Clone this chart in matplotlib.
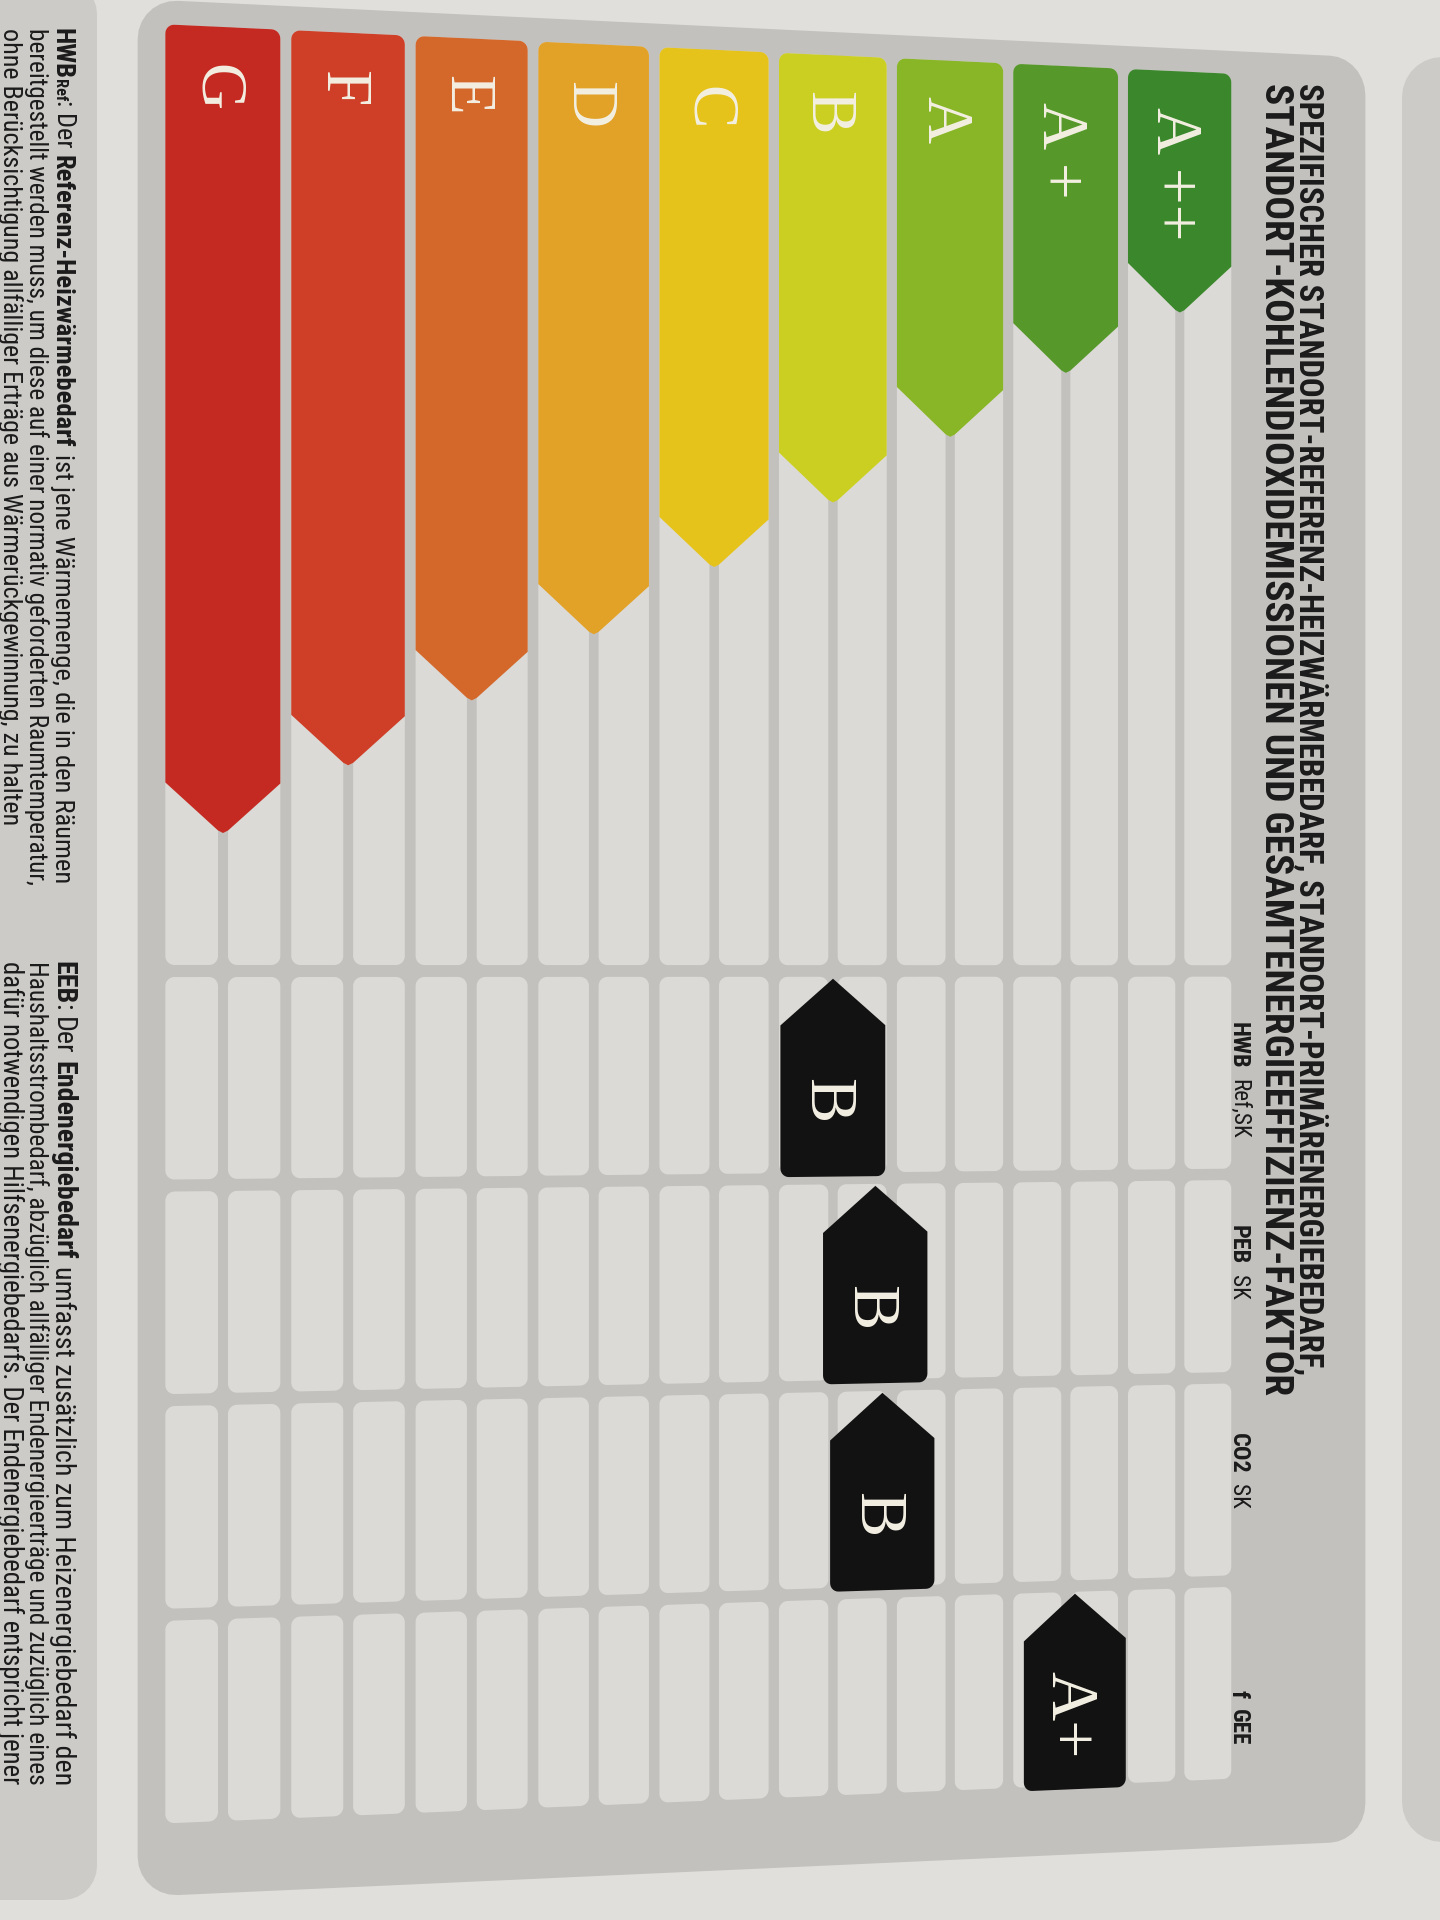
import numpy as np
import matplotlib
matplotlib.use("Agg")
import matplotlib.pyplot as plt
from matplotlib.patches import Polygon
from matplotlib import font_manager as fm
from matplotlib.font_manager import FontProperties

# ------------------------------------------------------------------ data
classes = ["A ++", "A +", "A", "B", "C", "D", "E", "F", "G"]
bar_length = [253, 320, 390, 461, 530, 601, 670, 737, 806]   # scale length of each class arrow
class_colors = ["#3a882b", "#56992a", "#89b627", "#cbcf22", "#e6c31b",
                "#e2a127", "#d4682b", "#cf3e26", "#c42a21"]
indicator_main = ["HWB", "PEB", "CO2", "f"]
indicator_sub = ["Ref,SK", "SK", "SK", "GEE"]
rating_label = ["B", "B", "B", "A+"]
rating_pos = [3.0, 2.64, 2.58, 0.92]      # position on class scale (A++ = 0 ... G = 8)
title_lines = ["SPEZIFISCHER STANDORT-REFERENZ-HEIZWÄRMEBEDARF, STANDORT-PRIMÄRENERGIEBEDARF,",
               "STANDORT-KOHLENDIOXIDEMISSIONEN UND GESAMTENERGIEEFFIZIENZ-FAKTOR"]
note_col1 = [
    [("HWB", "bold", 1.0), ("Ref", "bold", 0.62), (":", "normal", 1.0), (" Der", "normal", 1.0),
     (" Referenz-Heizwärmebedarf", "bold", 1.0), (" ist jene Wärmemenge, die in den Räumen", "normal", 1.0)],
    [("bereitgestellt werden muss, um diese auf einer normativ geforderten Raumtemperatur,", "normal", 1.0)],
    [("ohne Berücksichtigung allfälliger Erträge aus Wärmerückgewinnung, zu halten", "normal", 1.0)],
]
note_col2 = [
    [("EEB", "bold", 1.0), (":", "normal", 1.0), (" Der", "normal", 1.0), (" Endenergiebedarf", "bold", 1.0),
     (" umfasst zusätzlich zum Heizenergiebedarf den", "normal", 1.0)],
    [("Haushaltsstrombedarf, abzüglich allfälliger Endenergieerträge und zuzüglich eines", "normal", 1.0)],
    [("dafür notwendigen Hilfsenergiebedarfs. Der Endenergiebedarf entspricht jener", "normal", 1.0)],
]

# ------------------------------------------------------------------ layout / style
PAGE = "#e0dfdb"
PANEL = "#c3c1be"
CELL = "#dcdad6"
SIDE = "#cdcbc8"
TXT = "#1b1b1b"
LETTER = "#f3efe2"
MARK = "#121212"

X0, PITCH, COLW, SUBGAP = 223.0, 126.0, 115.0, 10.0
TOP, GRID_END = 27.0, 965.0
ROW_TOP0, ROW_PITCH, ROW_H = 977.0, 214.0, 202.0
NOTE_LEN = [[852, 854, 795], [821, 824, 821]]   # text run lengths of the footnote lines (px)


def _w(w):
    if isinstance(w, str):
        return fm.weight_dict.get(w, 400)
    return int(w)


def family_ok(name):
    ws = [_w(f.weight) for f in fm.fontManager.ttflist if f.name == name]
    return any(w <= 450 for w in ws) and any(w >= 600 for w in ws)


def pick(names, default):
    for n in names:
        try:
            if family_ok(n):
                return n
        except Exception:
            pass
    return default


SANS = pick(["Liberation Sans Narrow", "Roboto Condensed", "PT Sans Narrow", "Asap Condensed",
             "Barlow Semi Condensed", "Liberation Sans"], "DejaVu Sans")
SERIF = pick(["Liberation Serif", "DejaVu Serif"], "DejaVu Serif")


def warp(X, Y):
    """camera perspective of the photographed sheet"""
    X = np.asarray(X, float)
    Y = np.asarray(Y, float)
    xi = X - 0.8 * ((X - X0) / PITCH) ** 2
    s = 1 - 0.047 * (xi - X0) / 955.0
    yi = 970.0 + (Y - 970.0) * s
    return xi, yi


def arc(cx, cy, r, a0, a1, n=8):
    a = np.radians(np.linspace(a0, a1, n))
    return list(zip(cx + r * np.cos(a), cy + r * np.sin(a)))


def rrect(x0, y0, x1, y1, r):
    return (arc(x0 + r, y0 + r, r, 180, 270) + arc(x1 - r, y0 + r, r, 270, 360)
            + arc(x1 - r, y1 - r, r, 0, 90) + arc(x0 + r, y1 - r, r, 90, 180))


def densify(pts, step=10.0):
    out = []
    n = len(pts)
    for k in range(n):
        p = np.array(pts[k], float)
        q = np.array(pts[(k + 1) % n], float)
        d = np.hypot(*(q - p))
        m = max(1, int(d // step))
        for t in np.arange(m) / m:
            out.append(p + (q - p) * t)
    return np.array(out)


fig = plt.figure(figsize=(14.4, 19.2), dpi=100, facecolor=PAGE)
ax = fig.add_axes([0, 0, 1, 1])
ax.set_xlim(0, 1440)
ax.set_ylim(1920, 0)
ax.axis("off")
fig.canvas.draw()
renderer = fig.canvas.get_renderer()


def wpoly(pts, color, z, warped=True):
    P = densify(pts)
    if warped:
        xi, yi = warp(P[:, 0], P[:, 1])
        P = np.column_stack([xi, yi])
    ax.add_patch(Polygon(P, closed=True, facecolor=color, edgecolor="none", lw=0, zorder=z))


def tw(s, size, weight, family):
    fp = FontProperties(family=family, weight=weight, size=size)
    return renderer.get_text_width_height_descent(s, fp, ismath=False)[0]


def slen(s, size, weight, family):
    return tw("x" + s, size, weight, family) - tw("x", size, weight, family)


def runs_len(runs, size, family):
    y = 0.0
    for s, wt, sc in runs:
        sz = size * sc
        lead = len(s) - len(s.lstrip(" "))
        if lead:
            y += lead * (tw("x x", sz, wt, family) - tw("xx", sz, wt, family))
        y += slen(s.lstrip(" "), sz, wt, family)
    return y


def draw_runs(xb, y0, runs, size, family, color, z=8):
    y = y0
    for s, wt, sc in runs:
        sz = size * sc
        lead = len(s) - len(s.lstrip(" "))
        if lead:
            y += lead * (tw("x x", sz, wt, family) - tw("xx", sz, wt, family))
        body = s.lstrip(" ")
        ax.text(xb, y, body, rotation=-90, rotation_mode="anchor", ha="left", va="baseline",
                fontsize=sz, fontweight=wt, family=family, color=color, zorder=z)
        y += slen(body, sz, wt, family)
    return y


# ------------------------------------------------------------------ background panels
wpoly(rrect(-60, -20, 97, 1900, 34), SIDE, 1, warped=False)          # footnote panel
wpoly(rrect(1402, 57, 1520, 1842, 40), SIDE, 1, warped=False)        # neighbour panel
wpoly(rrect(138, 3, 1440, 1893, 40), PANEL, 2)                       # main panel

n = len(classes)
# grid cells
for i in range(n):
    X = X0 + PITCH * i
    for a, b in ((X - COLW / 2, X - SUBGAP / 2), (X + SUBGAP / 2, X + COLW / 2)):
        wpoly(rrect(a, TOP, b, GRID_END, 9), CELL, 3)
        for r in range(len(indicator_main)):
            rt = ROW_TOP0 + r * ROW_PITCH
            wpoly(rrect(a, rt, b, rt + ROW_H, 9), CELL, 3)

# class arrows
for k, (lab, L, col) in enumerate(zip(classes, bar_length, class_colors)):
    i = n - 1 - k
    X = X0 + PITCH * i
    hw = COLW / 2
    tip = TOP + L
    tap = 0.87 * hw
    r = 9
    pts = arc(X - hw + r, TOP + r, r, 180, 270) + arc(X + hw - r, TOP + r, r, 270, 360)
    pts += [(X + hw, tip - tap), (X + 5, tip - 2.5), (X, tip), (X - 5, tip - 2.5), (X - hw, tip - tap)]
    wpoly(pts, col, 4)
    tx, ty = warp(X, TOP + 37)
    ax.text(float(tx), float(ty), lab, rotation=-90, rotation_mode="anchor", ha="left",
            va="center_baseline", fontsize=47, family=SERIF, color=LETTER, zorder=6)

# rating markers
for r, (lab, pos) in enumerate(zip(rating_label, rating_pos)):
    i = (n - 1) - pos
    X = X0 + PITCH * i
    hw = 56
    rt = ROW_TOP0 + r * ROW_PITCH
    tip = rt + 2
    bot = rt + ROW_H + 4
    sh = tip + 48
    rr = 9
    pts = [(X, tip), (X + hw, sh)] + arc(X + hw - rr, bot - rr, rr, 0, 90) + arc(X - hw + rr, bot - rr, rr, 90, 180) + [(X - hw, sh)]
    wpoly(pts, MARK, 5)
    tx, ty = warp(X, (sh + bot) / 2)
    ax.text(float(tx), float(ty), lab, rotation=-90, rotation_mode="anchor", ha="center",
            va="center_baseline", fontsize=49, family=SERIF, color=LETTER, zorder=7)

# ------------------------------------------------------------------ title
title_centers = [1311, 1279]
title_len = [1295, 1313]
for s, xc, L in zip(title_lines, title_centers, title_len):
    size = 20 * L / tw(s, 20, "bold", SANS)
    xb = xc - 0.36 * size * 100 / 72
    ax.text(xb, 83, s, rotation=-90, rotation_mode="anchor", ha="left", va="baseline",
            fontsize=size, fontweight="bold", family=SANS, color=TXT, zorder=8)

# column headers
hdr_start = [1022, 1225, 1433, 1690]
for main, sub, y0 in zip(indicator_main, indicator_sub, hdr_start):
    draw_runs(1232, y0, [(main, "bold", 1.0), ("  " + sub, "normal" if sub != "GEE" else "bold", 0.95)],
              17.5, SANS, TXT)

# footnotes
for col, y0, lens in ((note_col1, 28, NOTE_LEN[0]), (note_col2, 961, NOTE_LEN[1])):
    for j, (runs, L) in enumerate(zip(col, lens)):
        size = 17 * L / runs_len(runs, 17, SANS)
        draw_runs(55 - 26 * j, y0, runs, size, SANS, TXT)

fig.savefig("out.png", dpi=100, facecolor=PAGE)
